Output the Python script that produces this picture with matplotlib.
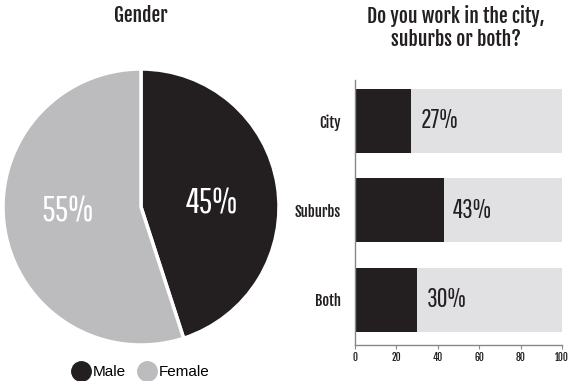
import matplotlib
matplotlib.use("Agg")
import matplotlib.pyplot as plt
from matplotlib.lines import Line2D

gender_labels = ['Male', 'Female']
gender_values = [45, 55]
work_places = ['City', 'Suburbs', 'Both']
work_values = [27, 43, 30]

dark = '#231f20'
pie_grey = '#bcbcbe'
bar_grey = '#e1e1e3'
light_font = ['Pathway Gothic One', 'Roboto Condensed', 'Liberation Sans']
bold_font = ['Fjalla One', 'Roboto Condensed', 'Liberation Sans']
plain_font = ['Liberation Sans', 'DejaVu Sans']

W, H = 570, 381
fig = plt.figure(figsize=(W / 100, H / 100), dpi=100)

def px(l, t, r, b):
    # pixel box (from top-left) -> figure fraction
    return [l / W, 1 - b / H, (r - l) / W, (b - t) / H]

# pie
ax1 = fig.add_axes(px(3, 69, 279, 345))
wedges, _ = ax1.pie(gender_values, colors=[dark, pie_grey], startangle=90,
                    counterclock=False, radius=1,
                    wedgeprops=dict(edgecolor='white', linewidth=2.5))
ax1.set_xlim(-1, 1)
ax1.set_ylim(-1, 1)
ax1.text(0.51, 0.03, f'{gender_values[0]}%', color='white', fontsize=26,
         family=light_font, ha='center', va='center')
ax1.text(-0.53, -0.03, f'{gender_values[1]}%', color='white', fontsize=26,
         family=light_font, ha='center', va='center')
fig.text(141 / W, 1 - 16 / H, 'Gender', family=bold_font,
         fontsize=14, ha='center', va='center', color=dark)

handles = [Line2D([], [], marker='o', ls='', markersize=14, color=c)
           for c in [dark, pie_grey]]
fig.legend(handles, gender_labels, loc='center', bbox_to_anchor=(142 / W, 1 - 372 / H),
           ncol=2, frameon=False, prop=dict(family=plain_font, size=11),
           handletextpad=0.35, columnspacing=1.0, handlelength=0.8)

# bars
ax2 = fig.add_axes(px(355, 80, 562, 345))
ypos = range(len(work_places))
ax2.barh(ypos, [100] * 3, height=0.715, color=bar_grey)
ax2.barh(ypos, work_values, height=0.715, color=dark)
for y, v in zip(ypos, work_values):
    ax2.text(v + 4.5, y, f'{v}%', fontsize=19, family=light_font, color=dark,
             va='center', ha='left')
ax2.set_xlim(0, 100)
ax2.set_ylim(2.503, -0.458)
ax2.set_yticks(list(ypos))
ax2.set_yticklabels(work_places, family=bold_font, fontsize=10.5, color=dark)
ax2.tick_params(axis='y', length=0, pad=10)
ax2.set_xticks([0, 20, 40, 60, 80, 100])
ax2.tick_params(axis='x', length=3, color='#888888', labelsize=7, pad=2)
for lab in ax2.get_xticklabels():
    lab.set_family(bold_font)
    lab.set_color(dark)
for s in ['top', 'right']:
    ax2.spines[s].set_visible(False)
for s in ['left', 'bottom']:
    ax2.spines[s].set_color('#888888')
    ax2.spines[s].set_linewidth(1)
fig.text(456 / W, 1 - 16 / H, 'Do you work in the city,', family=bold_font,
         fontsize=14, ha='center', va='center', color=dark)
fig.text(456 / W, 1 - 40 / H, 'suburbs or both?', family=bold_font,
         fontsize=14, ha='center', va='center', color=dark)

fig.savefig('out.png', dpi=100)
